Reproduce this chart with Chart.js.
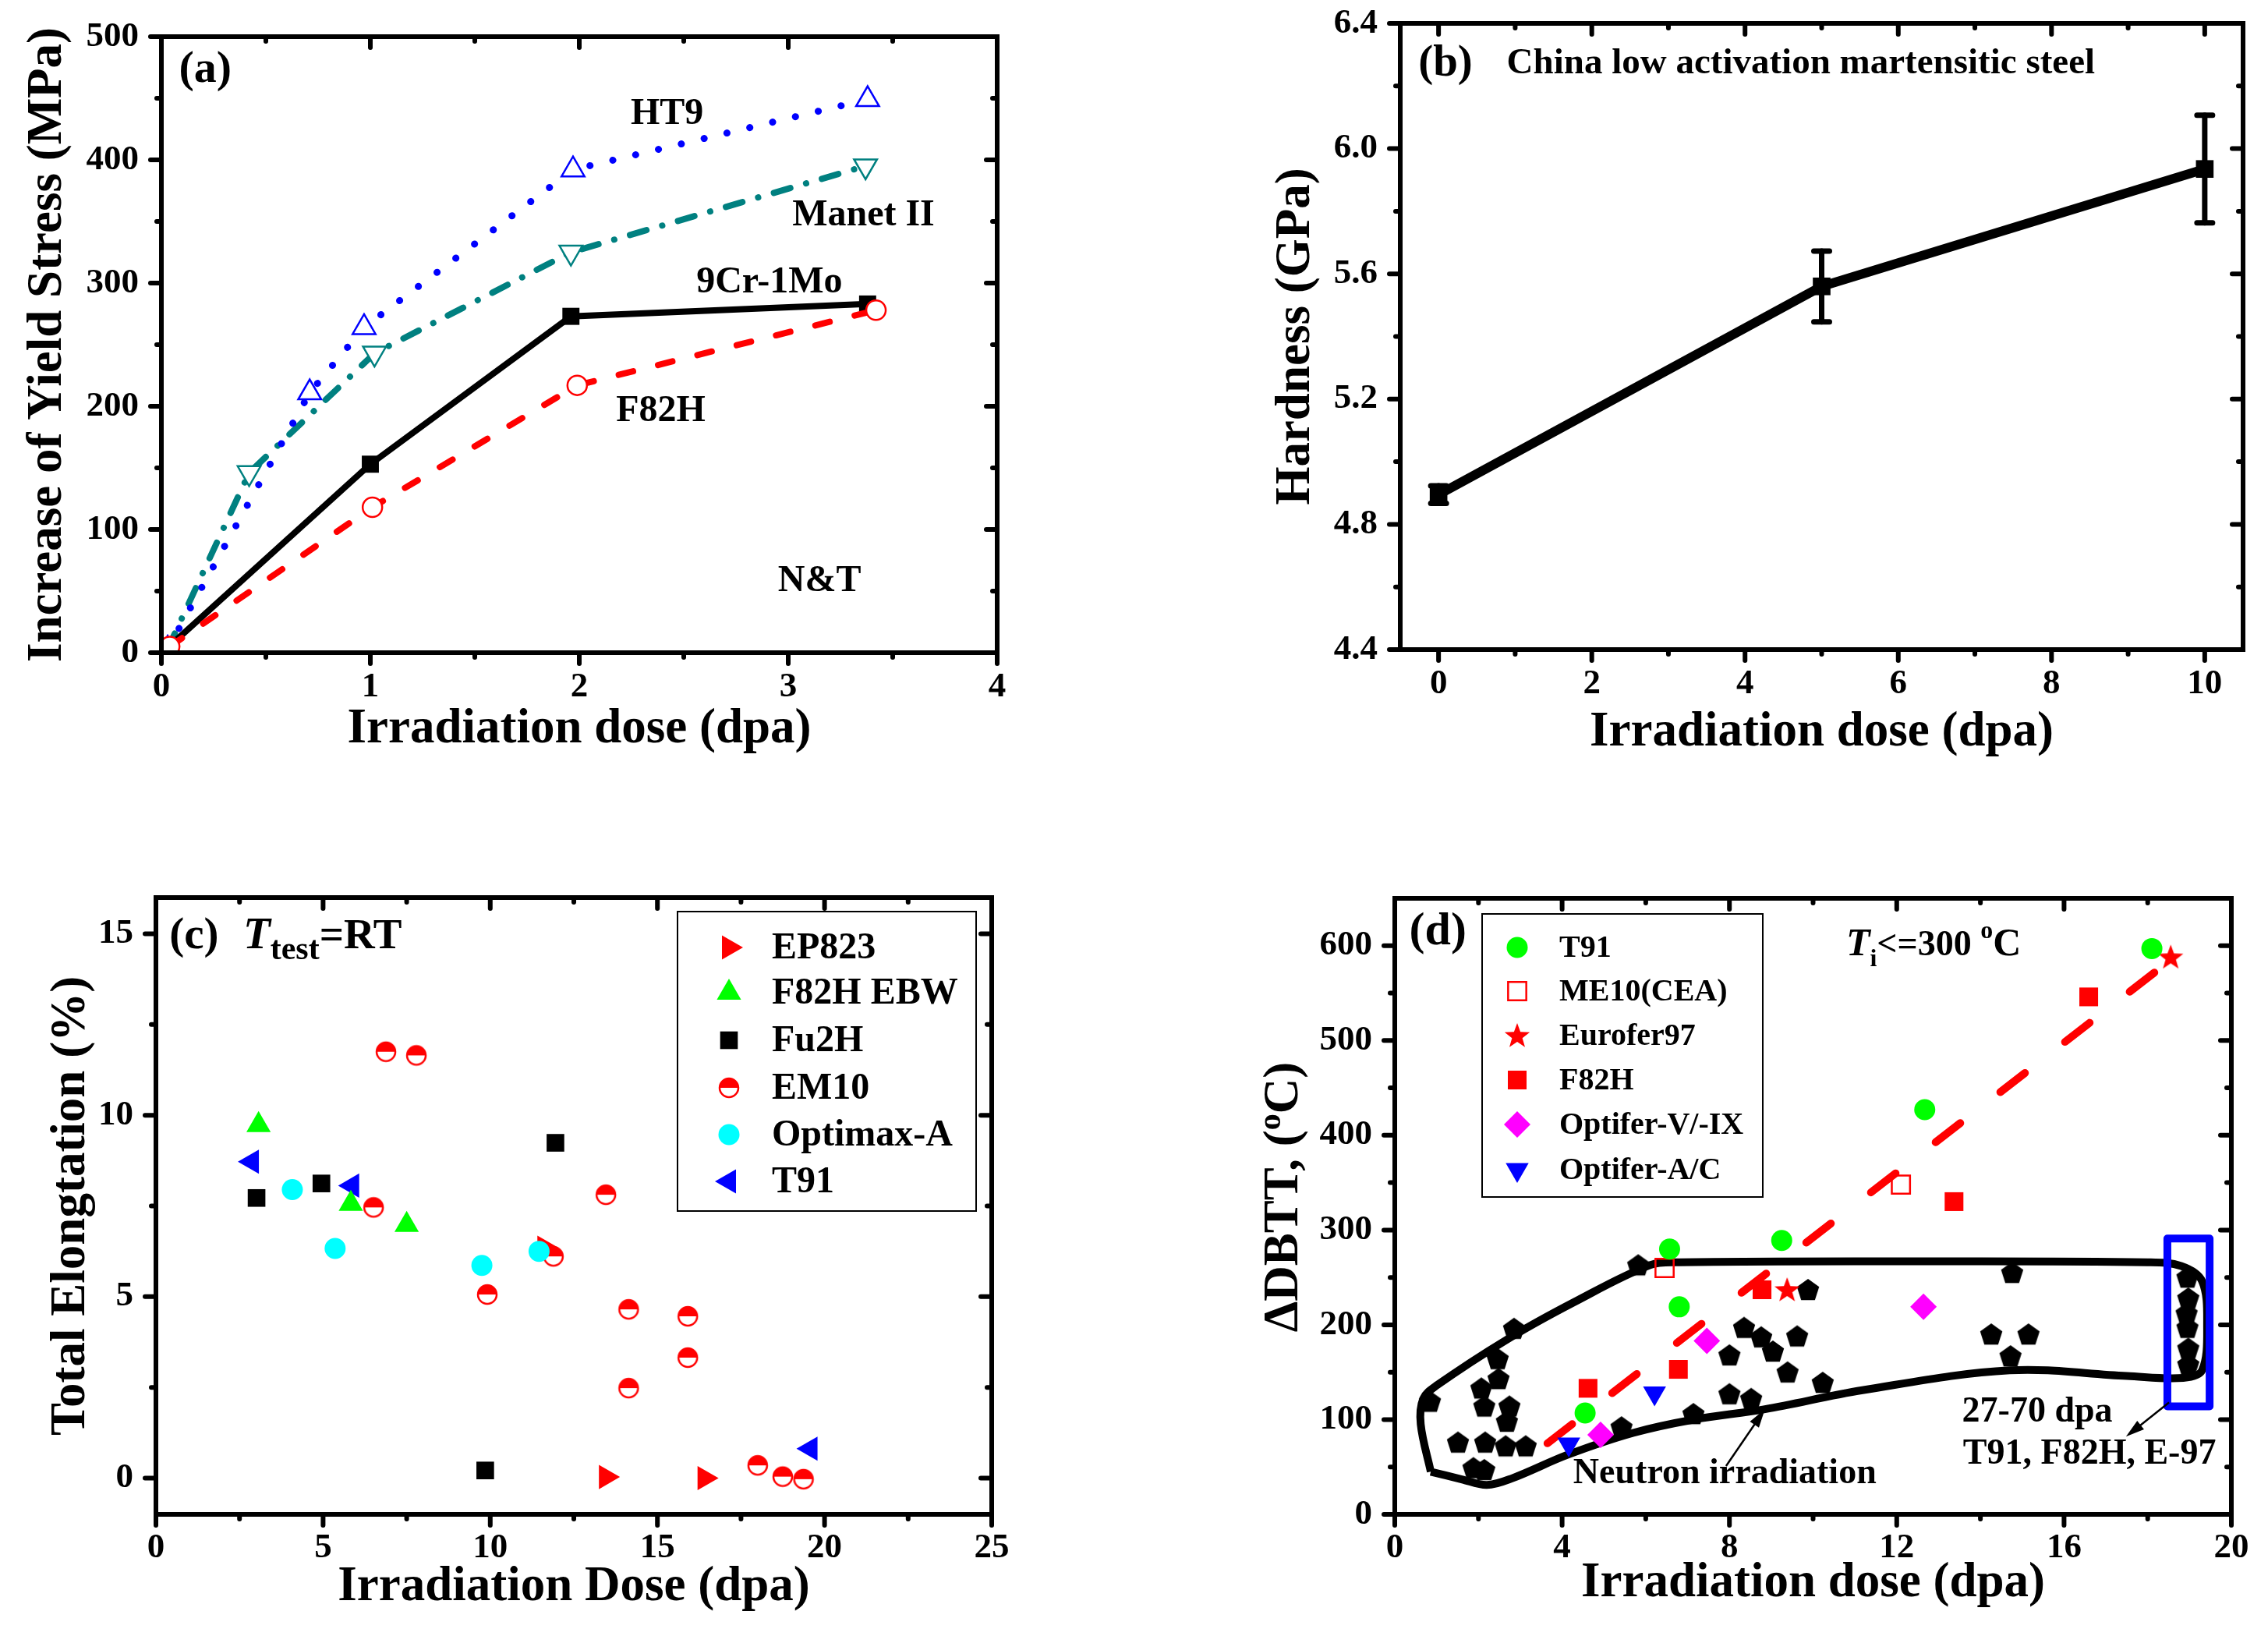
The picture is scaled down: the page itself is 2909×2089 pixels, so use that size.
<!DOCTYPE html>
<html>
<head>
<meta charset="utf-8">
<script src="https://cdn.jsdelivr.net/npm/chart.js@4.4.1/dist/chart.umd.min.js"></script>
<style>
html, body { margin: 0; padding: 0; background: #fff; }
body { width: 2909px; height: 2089px; position: relative; overflow: hidden; }
canvas { position: absolute; }
</style>
</head>
<body>
<canvas id="chartA" width="1440" height="1050" style="left:0;top:0;width:1440px;height:1050px"></canvas>
<canvas id="chartB" width="1454" height="1050" style="left:1455px;top:0;width:1454px;height:1050px"></canvas>
<canvas id="chartC" width="1440" height="1039" style="left:0;top:1050px;width:1440px;height:1039px"></canvas>
<canvas id="chartD" width="1454" height="1039" style="left:1455px;top:1050px;width:1454px;height:1039px"></canvas>
<script>
// (a) increase of yield stress vs dose
var aDoseTicks = [0, 1, 2, 3, 4];
var aStressTicks = [0, 100, 200, 300, 400, 500];
var ht9Dose = [0.03, 0.71, 0.97, 1.97, 3.38];
var ht9Stress = [3, 211, 264, 392, 449];
var manetDose = [0.03, 0.42, 1.02, 1.96, 3.37];
var manetStress = [3, 146, 243, 325, 395];
var cr9Dose = [0.03, 1.0, 1.96, 3.38];
var cr9Stress = [4, 153, 273, 283];
var f82hDose = [0.04, 1.01, 1.99, 3.42];
var f82hStress = [5, 118, 217, 278];

// (b) hardness of CLAM steel
var bDoseTicks = [0, 2, 4, 6, 8, 10];
var bHardTicks = [4.4, 4.8, 5.2, 5.6, 6.0, 6.4];
var clamDose = [0, 5, 10];
var clamHard = [4.895, 5.56, 5.935];
var clamErr = [0.028, 0.113, 0.172];

// (c) total elongation
var cDoseTicks = [0, 5, 10, 15, 20, 25];
var cElongTicks = [0, 5, 10, 15];
var ep823Dose = [11.62, 13.46, 16.41];
var ep823Elong = [6.35, 0.03, 0.0];
var ebwDose = [3.07, 5.83, 7.5];
var ebwElong = [9.73, 7.56, 6.98];
var fu2hDose = [3.01, 4.95, 11.95, 9.85];
var fu2hElong = [7.72, 8.12, 9.24, 0.21];
var em10Dose = [6.88, 7.79, 6.51, 9.91, 11.89, 13.46, 14.14, 15.91, 15.91, 14.14, 18.0, 18.75, 19.37];
var em10Elong = [11.75, 11.65, 7.46, 5.06, 6.11, 7.81, 4.65, 4.46, 3.32, 2.48, 0.35, 0.04, -0.03];
var optimaxDose = [4.08, 5.36, 9.75, 11.46];
var optimaxElong = [7.95, 6.33, 5.86, 6.25];
var t91cDose = [2.87, 5.87, 19.58];
var t91cElong = [8.72, 8.06, 0.81];

// (d) DBTT shift
var dDoseTicks = [0, 4, 8, 12, 16, 20];
var dShiftTicks = [0, 100, 200, 300, 400, 500, 600];
var t91dDose = [4.55, 6.57, 6.8, 9.25, 12.67, 18.1];
var t91dShift = [107, 280, 219, 289, 427, 597];
var me10Dose = [6.45, 12.1];
var me10Shift = [260, 348];
var euroDose = [9.38, 18.55];
var euroShift = [237, 588];
var f82hdDose = [4.62, 6.78, 8.78, 13.37, 16.59];
var f82hdShift = [133, 153, 237, 330, 546];
var optVDose = [4.92, 7.46, 12.64];
var optVShift = [84, 183, 219];
var optADose = [4.16, 6.21];
var optAShift = [74, 128];
var neutronDose = [0.84, 1.51, 1.88, 2.14, 2.07, 2.14, 2.16, 2.46, 2.48, 2.65, 2.68, 2.74, 2.85, 3.13, 5.42, 5.82,
  7.14, 8.0, 8.0, 8.35, 8.52, 8.76, 9.04, 9.39, 9.62, 9.88, 10.23, 14.26, 14.72, 14.76, 15.15,
  18.95, 18.97, 18.93, 18.95, 18.97, 18.97];
var neutronShift = [119, 76, 49, 47, 133, 114, 76, 164, 143, 72, 98, 114, 196, 72, 92, 263,
  106, 127, 168, 197, 122, 187, 172, 150, 188, 237, 139, 190, 167, 255, 190,
  250, 228, 212, 197, 175, 158];
var envDose = [0.86, 1.6, 2.2, 2.8, 4.14, 5.7, 7.14, 8.85, 11.18, 14.7, 17.5, 18.85, 19.3, 19.42, 19.3, 18.8, 18.0, 12.0, 6.8, 6.1, 4.29, 2.7, 1.0, 0.68, 0.62, 0.86];
var envShift = [45, 37, 31, 38, 63, 86, 100, 111, 131, 152, 146, 144, 152, 200, 246, 262, 266, 267, 266, 263, 224, 185, 136, 122, 95, 45];
var boxDose = [18.47, 19.48, 19.48, 18.47, 18.47];
var boxShift = [291, 291, 114, 114, 291];
var fitDose = [3.65, 18.55];
var fitShift = [75, 585];

var FONT = '"Liberation Serif", "Times New Roman", Times, serif';
Chart.defaults.font.family = FONT;
Chart.defaults.color = '#000';

function fnt(size, italic) {
  return (italic ? 'italic ' : '') + 'bold ' + size + 'px ' + FONT;
}

function pts(xs, ys) {
  return xs.map(function(x, i) { return {x: x, y: ys[i]}; });
}

function makeMarker(size, paint) {
  var c = document.createElement('canvas');
  c.width = size;
  c.height = size;
  paint(c.getContext('2d'), size / 2);
  return c;
}

var halfCircle = makeMarker(30, function(g, h) {
  var r = 12;
  g.beginPath(); g.arc(h, h, r, 0, Math.PI * 2); g.fillStyle = '#fff'; g.fill();
  g.beginPath(); g.arc(h, h, r, Math.PI, Math.PI * 2); g.closePath(); g.fillStyle = '#ff0000'; g.fill();
  g.beginPath(); g.arc(h, h, r, 0, Math.PI * 2); g.lineWidth = 2.5; g.strokeStyle = '#ff0000'; g.stroke();
});
var pentagon = makeMarker(32, function(g, h) {
  var r = 15;
  g.beginPath();
  for (var i = 0; i < 5; i++) {
    var a = -Math.PI / 2 + i * 2 * Math.PI / 5;
    g.lineTo(h + r * Math.cos(a), h + 1 + r * Math.sin(a));
  }
  g.closePath(); g.fillStyle = '#000'; g.fill();
});
var star = makeMarker(36, function(g, h) {
  var R = 17, r = 7;
  g.beginPath();
  for (var i = 0; i < 10; i++) {
    var a = -Math.PI / 2 + i * Math.PI / 5;
    var rr = i % 2 ? r : R;
    g.lineTo(h + rr * Math.cos(a), h + 1 + rr * Math.sin(a));
  }
  g.closePath(); g.fillStyle = '#ff0000'; g.fill();
});

// marker styles
var stHT9 = {ps: 'triangle', r: 17, bg: '#fff', bc: '#0000ff', bw: 2.5};
var stManet = {ps: 'triangle', r: 17, rot: 180, bg: '#fff', bc: '#008080', bw: 2.5};
var st9Cr = {ps: 'rect', r: 15.5, bg: '#000', bc: '#000', bw: 0};
var stF82H = {ps: 'circle', r: 12.5, bg: '#fff', bc: '#ff0000', bw: 2.5};
var stClam = {ps: 'rect', r: 16, bg: '#000', bc: '#000', bw: 0};

var stEP = {ps: 'triangle', r: 18, rot: 90, bg: '#ff0000', bc: '#ff0000', bw: 0};
var stEBW = {ps: 'triangle', r: 18, bg: '#00ff00', bc: '#00ff00', bw: 0};
var stFu2H = {ps: 'rect', r: 16, bg: '#000', bc: '#000', bw: 0};
var stEM10 = {ps: halfCircle, r: 13};
var stOpt = {ps: 'circle', r: 13.5, bg: '#00ffff', bc: '#00ffff', bw: 0};
var stT91c = {ps: 'triangle', r: 18, rot: -90, bg: '#0000ff', bc: '#0000ff', bw: 0};

var stT91d = {ps: 'circle', r: 13.5, bg: '#00ff00', bc: '#00ff00', bw: 0};
var stME10 = {ps: 'rect', r: 16.5, bg: 'rgba(0,0,0,0)', bc: '#ff0000', bw: 2.5};
var stEuro = {ps: star, r: 17};
var stF82Hd = {ps: 'rect', r: 17, bg: '#ff0000', bc: '#ff0000', bw: 0};
var stOptV = {ps: 'rectRot', r: 17, bg: '#ff00ff', bc: '#ff00ff', bw: 0};
var stOptA = {ps: 'triangle', r: 17, rot: 180, bg: '#0000ff', bc: '#0000ff', bw: 0};
var stPent = {ps: pentagon, r: 15};

function series(label, xs, ys, st, line) {
  var ds = {
    label: label,
    data: pts(xs, ys),
    pointStyle: st ? st.ps : false,
    pointRadius: st ? st.r : 0,
    pointRotation: st && st.rot ? st.rot : 0,
    pointBackgroundColor: st ? st.bg : undefined,
    pointBorderColor: st ? st.bc : undefined,
    pointBorderWidth: st && st.bw ? st.bw : 0,
    showLine: !!line,
    fill: false
  };
  if (line) {
    ds.borderColor = line.color;
    ds.borderWidth = line.width;
    ds.borderDash = line.dash || [];
    ds.borderCapStyle = line.cap || 'butt';
    ds.borderJoinStyle = line.join || 'miter';
    ds.tension = line.tension || 0;
  }
  return ds;
}

function axis(min, max, ticks, o) {
  return {
    type: 'linear',
    min: min,
    max: max,
    afterBuildTicks: function(s) { s.ticks = ticks.map(function(v) { return {value: v}; }); },
    afterFit: function(s) {
      if (o.w !== undefined) s.width = o.w;
      if (o.h !== undefined) s.height = o.h;
      // keep the plot box exactly where the layout padding puts it
      s.paddingTop = 0; s.paddingBottom = 0; s.paddingLeft = 0; s.paddingRight = 0;
    },
    grid: {display: false, drawTicks: false},
    border: {display: false},
    ticks: {
      font: {family: FONT, size: 45, weight: 'bold'},
      color: '#000',
      padding: o.pad,
      callback: o.fmt || function(v) { return String(v); }
    },
    title: {
      display: !!o.title,
      text: o.title || '',
      font: {family: FONT, size: 63, weight: 'bold'},
      color: '#000',
      padding: o.tpad || 0
    }
  };
}

function line(ctx, x1, y1, x2, y2) {
  ctx.beginPath(); ctx.moveTo(x1, y1); ctx.lineTo(x2, y2); ctx.stroke();
}

function mids(v) {
  var m = [];
  for (var i = 1; i < v.length; i++) m.push((v[i - 1] + v[i]) / 2);
  return m;
}

function drawFrame(chart) {
  var ctx = chart.ctx, a = chart.chartArea, xs = chart.scales.x, ys = chart.scales.y;
  var xv = xs.ticks.map(function(t) { return t.value; });
  var yv = ys.ticks.map(function(t) { return t.value; });
  ctx.save();
  ctx.strokeStyle = '#000';
  ctx.lineCap = 'round';
  ctx.lineWidth = 6;
  function xt(vals, len) {
    vals.forEach(function(v) {
      var p = xs.getPixelForValue(v);
      line(ctx, p, a.bottom, p, a.bottom + len);
      line(ctx, p, a.top, p, a.top + len);
    });
  }
  function yt(vals, len) {
    vals.forEach(function(v) {
      var p = ys.getPixelForValue(v);
      line(ctx, a.left, p, a.left - len, p);
      line(ctx, a.right, p, a.right - len, p);
    });
  }
  xt(xv, 14); xt(mids(xv), 6);
  yt(yv, 14); yt(mids(yv), 6);
  ctx.lineCap = 'butt';
  ctx.lineWidth = 6;
  ctx.strokeRect(a.left, a.top, a.right - a.left, a.bottom - a.top);
  ctx.restore();
}

function text(ctx, s, x, y, size, align, italic) {
  ctx.font = fnt(size, italic);
  ctx.fillStyle = '#000';
  ctx.textAlign = align || 'center';
  ctx.textBaseline = 'middle';
  ctx.fillText(s, x, y);
}

// parts: [text, size, italic, dy]
function rich(ctx, x, y, parts, align) {
  var w = 0;
  parts.forEach(function(p) { ctx.font = fnt(p[1], p[2]); w += ctx.measureText(p[0]).width; });
  var cx = align === 'center' ? x - w / 2 : x;
  ctx.fillStyle = '#000';
  ctx.textAlign = 'left';
  ctx.textBaseline = 'alphabetic';
  parts.forEach(function(p) {
    ctx.font = fnt(p[1], p[2]);
    ctx.fillText(p[0], cx, y + (p[3] || 0));
    cx += ctx.measureText(p[0]).width;
  });
}

function mark(ctx, st, x, y) {
  ctx.save();
  ctx.fillStyle = st.bg || '#000';
  ctx.strokeStyle = st.bc || '#000';
  ctx.lineWidth = st.bw || 0;
  Chart.helpers.drawPoint(ctx, {pointStyle: st.ps, radius: st.r, rotation: st.rot || 0, borderWidth: st.bw || 0}, x, y);
  ctx.restore();
}

function legendBox(ctx, box, rows, symX, txtX, size) {
  ctx.save();
  ctx.fillStyle = '#fff';
  ctx.fillRect(box[0], box[1], box[2] - box[0], box[3] - box[1]);
  ctx.strokeStyle = '#000';
  ctx.lineWidth = 2;
  ctx.strokeRect(box[0], box[1], box[2] - box[0], box[3] - box[1]);
  rows.forEach(function(r) {
    mark(ctx, r.st, symX, r.y);
    text(ctx, r.label, txtX, r.y + 2, size, 'left');
  });
  ctx.restore();
}

function arrow(ctx, x1, y1, x2, y2) {
  var ang = Math.atan2(y2 - y1, x2 - x1), L = 24, W = 7;
  ctx.save();
  ctx.strokeStyle = '#000'; ctx.fillStyle = '#000'; ctx.lineWidth = 2.5;
  line(ctx, x1, y1, x2 - L * 0.6 * Math.cos(ang), y2 - L * 0.6 * Math.sin(ang));
  ctx.beginPath();
  ctx.moveTo(x2, y2);
  ctx.lineTo(x2 - L * Math.cos(ang) + W * Math.sin(ang), y2 - L * Math.sin(ang) - W * Math.cos(ang));
  ctx.lineTo(x2 - L * Math.cos(ang) - W * Math.sin(ang), y2 - L * Math.sin(ang) + W * Math.cos(ang));
  ctx.closePath(); ctx.fill();
  ctx.restore();
}

function decor(extra, before) {
  return {
    id: 'decor',
    beforeDatasetsDraw: function(chart) {
      if (before) before(chart, chart.ctx, chart.scales.x, chart.scales.y);
    },
    afterDraw: function(chart) {
      drawFrame(chart);
      if (extra) extra(chart, chart.ctx, chart.scales.x, chart.scales.y);
    }
  };
}

var common = {
  responsive: false,
  animation: false,
  devicePixelRatio: 1,
  events: [],
  plugins: {legend: {display: false}, tooltip: {enabled: false}}
};

function opts(extra) {
  return Object.assign({}, common, extra);
}

// ---------- (a)
new Chart(document.getElementById('chartA'), {
  type: 'scatter',
  data: {
    datasets: [
      series('F82H', f82hDose, f82hStress, stF82H, {color: '#ff0000', width: 8, dash: [19, 33], cap: 'round'}),
      series('9Cr-1Mo', cr9Dose, cr9Stress, st9Cr, {color: '#000', width: 8}),
      series('HT9', ht9Dose, ht9Stress, stHT9, {color: '#0000ff', width: 9, dash: [0.1, 30], cap: 'round'}),
      series('Manet II', manetDose, manetStress, stManet, {color: '#008080', width: 8, dash: [22, 21, 0.1, 21], cap: 'round'})
    ]
  },
  options: opts({
    layout: {padding: {left: 0, top: 47, right: 161, bottom: 0}},
    scales: {
      x: axis(0, 4, aDoseTicks, {h: 213, pad: 17, title: 'Irradiation dose (dpa)', tpad: {top: 0, bottom: 76}}),
      y: axis(0, 500, aStressTicks, {w: 207, pad: 29, title: 'Increase of Yield Stress (MPa)', tpad: {top: 24, bottom: 0}})
    }
  }),
  plugins: [decor(function(chart, ctx, xs, ys) {
    var X = function(v) { return xs.getPixelForValue(v); }, Y = function(v) { return ys.getPixelForValue(v); };
    text(ctx, '(a)', X(0.21), Y(473), 58);
    text(ctx, 'HT9', X(2.42), Y(437), 48);
    text(ctx, 'Manet II', X(3.36), Y(355), 48);
    text(ctx, '9Cr-1Mo', X(2.91), Y(300), 48);
    text(ctx, 'F82H', X(2.39), Y(196), 48);
    text(ctx, 'N&T', X(3.15), Y(58), 48);
  })]
});

// ---------- (b)
new Chart(document.getElementById('chartB'), {
  type: 'scatter',
  data: {
    datasets: [
      series('CLAM', clamDose, clamHard, stClam, {color: '#000', width: 12})
    ]
  },
  options: opts({
    layout: {padding: {left: 0, top: 30, right: 32, bottom: 0}},
    scales: {
      x: axis(-0.5, 10.5, bDoseTicks, {h: 217, pad: 17, title: 'Irradiation dose (dpa)', tpad: {top: 0, bottom: 72}}),
      y: axis(4.4, 6.4, bHardTicks, {w: 341, pad: 29, title: 'Hardness (GPa)', tpad: {top: 170, bottom: 0},
        fmt: function(v) { return Number(v).toFixed(1); }})
    }
  }),
  plugins: [decor(function(chart, ctx, xs, ys) {
    var X = function(v) { return xs.getPixelForValue(v); }, Y = function(v) { return ys.getPixelForValue(v); };
    text(ctx, '(b)', X(0.09), Y(6.27), 57);
    text(ctx, 'China low activation martensitic steel', X(0.89), Y(6.27), 47, 'left');
  }, function(chart, ctx, xs, ys) {
    ctx.save();
    ctx.strokeStyle = '#000';
    ctx.lineWidth = 7;
    ctx.lineCap = 'round';
    clamDose.forEach(function(d, i) {
      var x = xs.getPixelForValue(d);
      var y1 = ys.getPixelForValue(clamHard[i] + clamErr[i]);
      var y2 = ys.getPixelForValue(clamHard[i] - clamErr[i]);
      line(ctx, x, y1, x, y2);
      line(ctx, x - 10, y1, x + 10, y1);
      line(ctx, x - 10, y2, x + 10, y2);
    });
    ctx.restore();
  })]
});

// ---------- (c)
new Chart(document.getElementById('chartC'), {
  type: 'scatter',
  data: {
    datasets: [
      series('Optimax-A', optimaxDose, optimaxElong, stOpt),
      series('EM10', em10Dose, em10Elong, stEM10),
      series('EP823', ep823Dose, ep823Elong, stEP),
      series('F82H EBW', ebwDose, ebwElong, stEBW),
      series('Fu2H', fu2hDose, fu2hElong, stFu2H),
      series('T91', t91cDose, t91cElong, stT91c)
    ]
  },
  options: opts({
    layout: {padding: {left: 0, top: 101, right: 168, bottom: 0}},
    scales: {
      x: axis(0, 25, cDoseTicks, {h: 147, pad: 16, title: 'Irradiation Dose (dpa)', tpad: {top: 0, bottom: 15}}),
      y: axis(-1, 16, cElongTicks, {w: 200, pad: 29, title: 'Total Elongtation (%)', tpad: {top: 54, bottom: 0}})
    }
  }),
  plugins: [decor(function(chart, ctx, xs, ys) {
    var X = function(v) { return xs.getPixelForValue(v); }, Y = function(v) { return ys.getPixelForValue(v); };
    rich(ctx, X(0.40), Y(14.6), [['(c)', 57]]);
    rich(ctx, X(2.61), Y(14.6), [['T', 57, true], ['test', 42, false, 14], ['=RT', 55]]);
    legendBox(ctx, [869, 119, 1252, 503], [
      {st: stEP, label: 'EP823', y: 165},
      {st: stEBW, label: 'F82H EBW', y: 223},
      {st: stFu2H, label: 'Fu2H', y: 284},
      {st: stEM10, label: 'EM10', y: 345},
      {st: stOpt, label: 'Optimax-A', y: 405},
      {st: stT91c, label: 'T91', y: 465}
    ], 935, 990, 48);
  })]
});

// ---------- (d)
new Chart(document.getElementById('chartD'), {
  type: 'scatter',
  data: {
    datasets: [
      series('T91', t91dDose, t91dShift, stT91d),
      series('ME10(CEA)', me10Dose, me10Shift, stME10),
      series('Eurofer97', euroDose, euroShift, stEuro),
      series('F82H', f82hdDose, f82hdShift, stF82Hd),
      series('Optifer-V/-IX', optVDose, optVShift, stOptV),
      series('Optifer-A/C', optADose, optAShift, stOptA),
      series('fit', fitDose, fitShift, null, {color: '#ff0000', width: 10, dash: [40, 65], cap: 'round'}),
      series('27-70 dpa', boxDose, boxShift, null, {color: '#0000ff', width: 10, cap: 'round', join: 'round'}),
      series('Neutron', neutronDose, neutronShift, stPent),
      series('envelope', envDose, envShift, null, {color: '#000', width: 10, tension: 0.35, join: 'round'})
    ]
  },
  options: opts({
    layout: {padding: {left: 0, top: 102, right: 47, bottom: 0}},
    scales: {
      x: axis(0, 20, dDoseTicks, {h: 147, pad: 16, title: 'Irradiation dose (dpa)', tpad: {top: 0, bottom: 20}}),
      y: axis(0, 650, dShiftTicks, {w: 334, pad: 29})
    }
  }),
  plugins: [decor(function(chart, ctx, xs, ys) {
    var X = function(v) { return xs.getPixelForValue(v); }, Y = function(v) { return ys.getPixelForValue(v); };
    var a = chart.chartArea;
    // y axis title with superscript
    ctx.save();
    ctx.translate(187, (a.top + a.bottom) / 2 - 12);
    ctx.rotate(-Math.PI / 2);
    rich(ctx, 0, 22, [['\u0394DBTT, (', 63], ['o', 42, false, -22], ['C)', 63]], 'center');
    ctx.restore();
    text(ctx, '(d)', X(1.03), Y(614), 60);
    rich(ctx, X(10.79), Y(590), [['T', 50, true], ['i', 32, false, 14], ['<=300 ', 46], ['o', 32, false, -22], ['C', 50]]);
    text(ctx, '27-70 dpa', X(15.36), Y(108), 46);
    text(ctx, 'T91, F82H, E-97', X(16.61), Y(63), 46);
    text(ctx, 'Neutron irradiation', X(7.89), Y(43), 46);
    arrow(ctx, X(7.92), Y(51), X(8.85), Y(111));
    arrow(ctx, X(18.51), Y(118), X(17.48), Y(82));
    legendBox(ctx, [446, 122, 806, 485], [
      {st: stT91d, label: 'T91', y: 165},
      {st: stME10, label: 'ME10(CEA)', y: 221},
      {st: stEuro, label: 'Eurofer97', y: 278},
      {st: stF82Hd, label: 'F82H', y: 335},
      {st: stOptV, label: 'Optifer-V/-IX', y: 392},
      {st: stOptA, label: 'Optifer-A/C', y: 450}
    ], 491, 545, 40);
  })]
});
</script>
</body>
</html>
